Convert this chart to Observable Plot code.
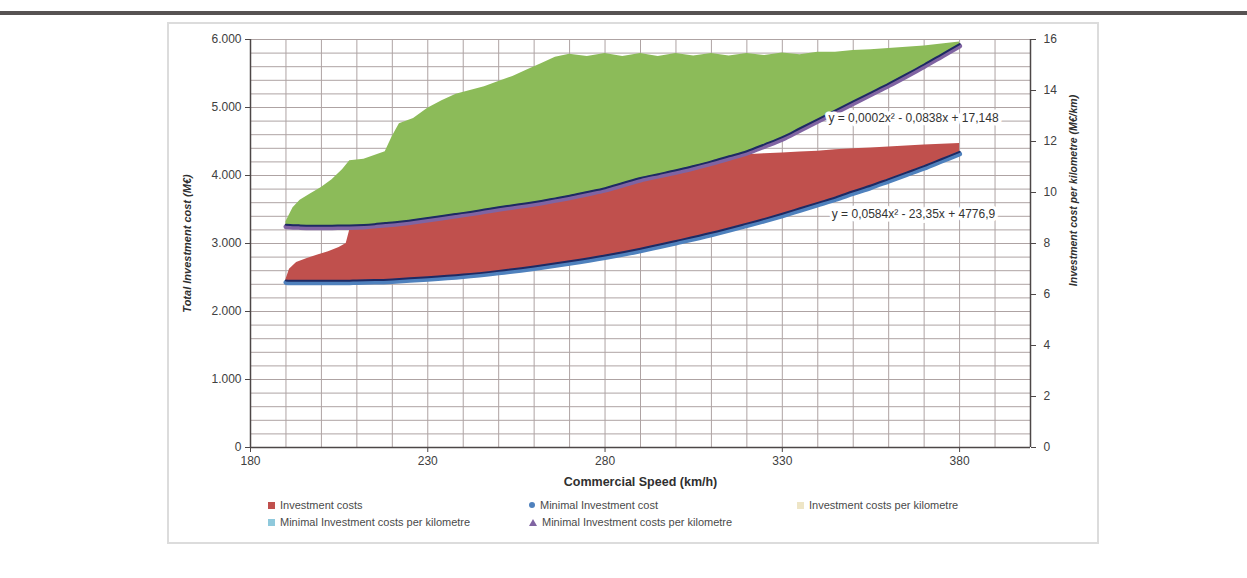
<!DOCTYPE html>
<html>
<head>
<meta charset="utf-8">
<script src="https://cdn.jsdelivr.net/npm/d3@7"></script>
<script src="https://cdn.jsdelivr.net/npm/@observablehq/plot@0.6"></script>
<style>
  html, body { margin: 0; padding: 0; background: #fff; }
  #page { position: relative; width: 1247px; height: 578px; overflow: hidden;
          font-family: "Liberation Sans", Arial, sans-serif; }
  #rule { position: absolute; left: 0; top: 11px; width: 1247px; height: 4px; background: #575353; }
  #frame { position: absolute; left: 167px; top: 22px; width: 932px; height: 522px; border: 2px solid #dcdcdc; box-sizing: border-box; }
  #chart { position: absolute; left: 0; top: 0; }
  .legend { position: absolute; font-size: 11px; color: #4a4a4a; white-space: nowrap; line-height: 14px; }
  .legend .m { display: inline-block; margin-right: 5px; vertical-align: middle; position: relative; top: -1px; }
</style>
</head>
<body>
<div id="page">
  <div id="rule"></div>
  <div id="frame"></div>
  <div id="chart"></div>
</div>
<script>
// Commercial speed (km/h) with the lowest and highest total investment cost (M€)
const costSpeed = [190, 191, 193, 196, 199, 202, 205, 207, 208, 210, 215, 220, 230, 240, 250, 260, 270, 280, 290, 300, 310, 320, 325, 330, 335, 340, 345, 350, 355, 360, 365, 370, 375, 380];
const costMin   = [2450, 2445, 2445, 2445, 2445, 2445, 2445, 2445, 2445, 2450, 2455, 2465, 2495, 2535, 2590, 2655, 2730, 2815, 2915, 3030, 3150, 3285, 3355, 3430, 3510, 3590, 3670, 3760, 3845, 3940, 4035, 4130, 4235, 4340];
const costMax   = [2470, 2620, 2720, 2780, 2830, 2880, 2940, 3000, 3200, 3300, 3420, 3550, 3750, 3900, 4020, 4120, 4190, 4230, 4260, 4280, 4290, 4305, 4320, 4330, 4345, 4355, 4380, 4395, 4405, 4420, 4435, 4450, 4460, 4470];

// Commercial speed (km/h) with the lowest and highest investment cost per kilometre (M€/km)
const kmSpeed = [190, 192, 194, 197, 200, 203, 206, 208, 212, 215, 218, 220, 222, 226, 230, 234, 238, 242, 246, 250, 254, 258, 262, 266, 270, 275, 280, 285, 290, 295, 300, 305, 310, 315, 320, 325, 330, 335, 340, 345, 350, 355, 360, 365, 370, 375, 380];
const kmMin   = [8.72, 8.70, 8.69, 8.68, 8.68, 8.68, 8.69, 8.69, 8.71, 8.74, 8.78, 8.80, 8.83, 8.90, 8.98, 9.06, 9.14, 9.22, 9.31, 9.40, 9.48, 9.56, 9.65, 9.75, 9.85, 10.00, 10.15, 10.35, 10.55, 10.70, 10.85, 11.02, 11.20, 11.40, 11.60, 11.87, 12.15, 12.50, 12.85, 13.20, 13.55, 13.90, 14.25, 14.62, 15.00, 15.40, 15.80];
const kmMax   = [8.85, 9.40, 9.70, 9.95, 10.20, 10.50, 10.90, 11.25, 11.30, 11.45, 11.60, 12.20, 12.70, 12.90, 13.30, 13.60, 13.85, 14.00, 14.15, 14.35, 14.55, 14.80, 15.05, 15.30, 15.42, 15.33, 15.45, 15.33, 15.45, 15.33, 15.45, 15.35, 15.45, 15.35, 15.45, 15.37, 15.47, 15.40, 15.50, 15.50, 15.57, 15.60, 15.65, 15.70, 15.75, 15.82, 15.90];

// Axis ticks
const speedTicks = [180, 230, 280, 330, 380];
const costTicks = [0, 1000, 2000, 3000, 4000, 5000, 6000];
const perKmTicks = [0, 2, 4, 6, 8, 10, 12, 14, 16];

// Trend line equations and where they sit (speed, M€)
const eqText  = ["y = 0,0002x² - 0,0838x + 17,148", "y = 0,0584x² - 23,35x + 4776,9"];
const eqSpeed = [367, 367];
const eqValue = [4838, 3426];

const costMaxAxis = 6000, perKmMaxAxis = 16;
const ratio = costMaxAxis / perKmMaxAxis; // M€ per (M€/km) on the shared vertical scale

const costRows = costSpeed.map((s, i) => ({speed: s, low: costMin[i], high: costMax[i]}));
const kmRows = kmSpeed.map((s, i) => ({speed: s, low: kmMin[i], high: kmMax[i]}));
const eqRows = eqText.map((t, i) => ({label: t, speed: eqSpeed[i], value: eqValue[i]}));

const font = '"Liberation Sans", Arial, sans-serif';
const grid = "#aea3a3";
const axisColor = "#4d4747";
const fmtCost = d => d === 0 ? "0" : d3.format(",")(d).replace(/,/g, ".");

const chart = Plot.plot({
  width: 1247,
  height: 578,
  marginLeft: 250,
  marginRight: 217,
  marginTop: 39,
  marginBottom: 131,
  x: {domain: [180, 400]},
  y: {domain: [0, costMaxAxis]},
  style: {fontFamily: font, fontSize: "12px", color: "#404040", background: "transparent"},
  marks: [
    Plot.ruleX(d3.range(190, 400, 10), {stroke: grid, strokeWidth: 1}),
    Plot.ruleY(d3.range(200, 6001, 200), {stroke: grid, strokeWidth: 1}),

    // total investment cost band
    Plot.areaY(costRows, {x: "speed", y1: "low", y2: "high", fill: "#c0504d"}),
    // investment cost per kilometre band (right axis)
    Plot.areaY(kmRows, {x: "speed", y1: d => d.low * ratio, y2: d => d.high * ratio, fill: "#8cbb59"}),

    // minimal investment cost + trend
    Plot.line(costRows, {x: "speed", y: "low", stroke: "#4f81bd", strokeWidth: 5, dy: 1.5, curve: "catmull-rom"}),
    Plot.line(costRows, {x: "speed", y: "low", stroke: "#1d2a63", strokeWidth: 2, dy: -0.5, curve: "catmull-rom"}),
    // minimal investment cost per kilometre + trend
    Plot.line(kmRows, {x: "speed", y: d => d.low * ratio, stroke: "#8064a2", strokeWidth: 5, dy: 1.5, curve: "catmull-rom"}),
    Plot.line(kmRows, {x: "speed", y: d => d.low * ratio, stroke: "#1d2a63", strokeWidth: 2, dy: -0.5, curve: "catmull-rom"}),

    Plot.ruleY([0], {stroke: axisColor, strokeWidth: 1.5}),
    Plot.ruleX([180], {stroke: axisColor, strokeWidth: 1.5}),
    Plot.ruleX([400], {stroke: axisColor, strokeWidth: 1.5}),

    Plot.axisX({ticks: speedTicks, tickSize: 5, tickPadding: 4, label: null, stroke: axisColor}),
    Plot.axisY({ticks: costTicks, tickFormat: fmtCost, tickSize: 5, tickPadding: 4, label: null, stroke: axisColor}),
    Plot.axisY({anchor: "right", ticks: perKmTicks.map(v => v * ratio), tickFormat: d => String(Math.round(d / ratio)),
                tickSize: 5, tickPadding: 8, label: null, stroke: axisColor}),

    Plot.text(["Commercial Speed (km/h)"], {frameAnchor: "bottom", lineAnchor: "middle", textAnchor: "middle", dy: 34,
                fontWeight: "bold", fontSize: 12.5, fill: "#2f2f2f"}),
    Plot.text(["Total Investment cost (M€)"], {frameAnchor: "left", textAnchor: "middle", lineAnchor: "middle", dx: -63,
                rotate: -90, fontWeight: "bold", fontStyle: "italic", fontSize: 11, fill: "#2f2f2f"}),
    Plot.text(["Investment cost per kilometre (M€/km)"], {frameAnchor: "right", textAnchor: "middle", lineAnchor: "middle", dx: 43, dy: -53,
                rotate: -90, fontWeight: "bold", fontStyle: "italic", fontSize: 10.5, fill: "#2f2f2f"}),

    Plot.text(eqRows, {x: "speed", y: "value", text: "label", fontSize: 12, fill: "#333", stroke: "white", strokeWidth: 7})
  ]
});
document.getElementById("chart").appendChild(chart);

// legend below the axis
const legendItems = [
  {label: "Investment costs", marker: "square", color: "#c0504d", left: 268, top: 498},
  {label: "Minimal Investment cost", marker: "circle", color: "#4f81bd", left: 529, top: 498},
  {label: "Investment costs per kilometre", marker: "square", color: "#eee5c6", left: 797, top: 498},
  {label: "Minimal Investment costs per kilometre", marker: "square", color: "#8fc9dc", left: 268, top: 515},
  {label: "Minimal Investment costs per kilometre", marker: "triangle", color: "#8064a2", left: 529, top: 515}
];
const page = document.getElementById("page");
for (const it of legendItems) {
  const div = document.createElement("div");
  div.className = "legend";
  div.style.left = it.left + "px";
  div.style.top = it.top + "px";
  let m;
  if (it.marker === "triangle") {
    m = `<span class="m" style="width:0;height:0;border-left:4px solid transparent;border-right:4px solid transparent;border-bottom:7px solid ${it.color}"></span>`;
  } else if (it.marker === "circle") {
    m = `<span class="m" style="width:6px;height:6px;border-radius:50%;background:${it.color}"></span>`;
  } else {
    m = `<span class="m" style="width:7px;height:7px;background:${it.color}"></span>`;
  }
  div.innerHTML = m + it.label;
  page.appendChild(div);
}
</script>
</body>
</html>
